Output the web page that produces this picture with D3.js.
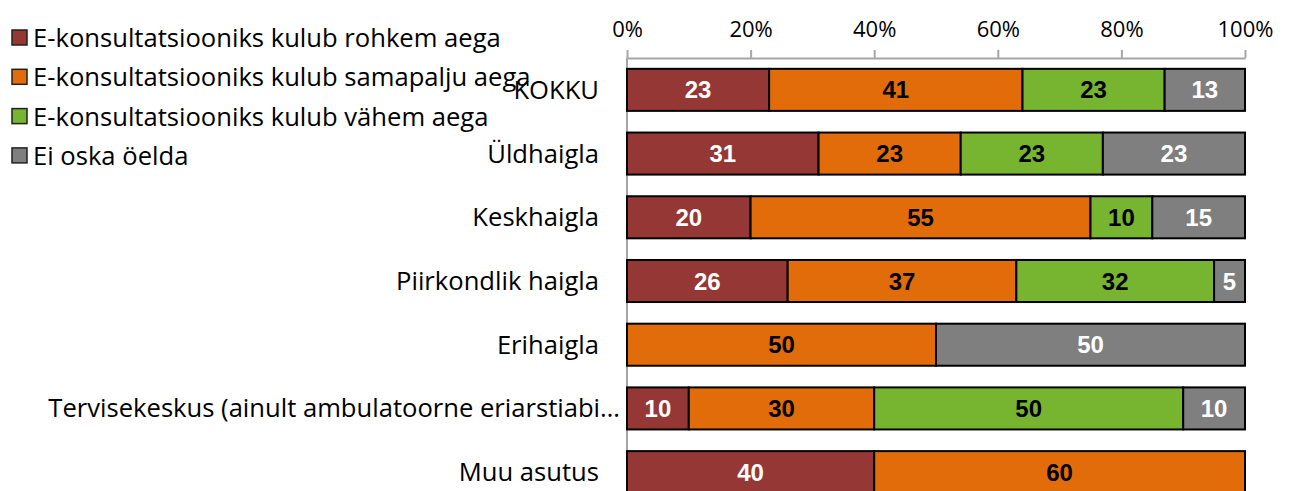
<!DOCTYPE html>
<html>
<head>
  <meta charset="utf-8">
  <script src="https://d3js.org/d3.v7.min.js"></script>
  <style>
    body { margin: 0; background: #fff; }
    svg { display: block; }
  </style>
</head>
<body>
  <svg id="chart" width="1290" height="491"></svg>
  <script>
    // data (percent)
    const categories = ["KOKKU", "Üldhaigla", "Keskhaigla", "Piirkondlik haigla", "Erihaigla",
      "Tervisekeskus (ainult ambulatoorne eriarstiabi…", "Muu asutus"];
    const seriesNames = ["E-konsultatsiooniks kulub rohkem aega", "E-konsultatsiooniks kulub samapalju aega",
      "E-konsultatsiooniks kulub vähem aega", "Ei oska öelda"];
    const rohkem = [23, 31, 20, 26, 0, 10, 40];
    const samapalju = [41, 23, 55, 37, 50, 30, 60];
    const vahem = [23, 23, 10, 32, 0, 50, 0];
    const eiOska = [13, 23, 15, 5, 50, 10, 0];
    const tickValues = [0, 20, 40, 60, 80, 100];

    const colors = ["#953735", "#e36c0a", "#77b531", "#7f7f7f"];
    const labelColors = ["#fff", "#000", "#000", "#fff"];
    const textFont = "'Open Sans', 'Noto Sans', sans-serif";
    const numFont = "'Liberation Sans', Arial, sans-serif";

    const rows = categories.map((c, i) => ({
      cat: c, s0: rohkem[i], s1: samapalju[i], s2: vahem[i], s3: eiOska[i]
    }));
    const stack = d3.stack().keys(["s0", "s1", "s2", "s3"])(rows);

    const svg = d3.select("#chart");
    const x = d3.scaleLinear().domain([0, 100]).range([627, 1245]);
    const y = d3.scaleBand().domain(categories).range([58, 504]).paddingInner(0.34).paddingOuter(0.17);

    // top axis
    const axis = svg.append("g")
      .attr("transform", "translate(0,58)")
      .call(d3.axisTop(x).tickValues(tickValues).tickSize(8).tickSizeOuter(0).tickPadding(13).tickFormat(d => d + "%"));
    axis.select(".domain").attr("stroke", "#a6a6a6").attr("stroke-width", 2);
    axis.selectAll(".tick line").attr("stroke", "#a6a6a6").attr("stroke-width", 2);
    axis.selectAll(".tick text")
      .attr("fill", "#000")
      .style("font-family", textFont)
      .style("font-size", "22px");

    // vertical category axis line
    svg.append("line")
      .attr("x1", x(0)).attr("x2", x(0))
      .attr("y1", 58).attr("y2", 491)
      .attr("stroke", "#a6a6a6").attr("stroke-width", 2);

    // bars
    const layers = svg.append("g").selectAll("g").data(stack).join("g")
      .attr("fill", (d, i) => colors[i]);
    layers.selectAll("rect").data(d => d.map(v => ({ v, cat: v.data.cat })))
      .join("rect")
      .attr("x", d => x(d.v[0]))
      .attr("y", d => y(d.cat))
      .attr("width", d => x(d.v[1]) - x(d.v[0]))
      .attr("height", y.bandwidth())
      .attr("stroke", "#000")
      .attr("stroke-width", d => d.v[1] > d.v[0] ? 2 : 0);

    // value labels
    stack.forEach((layer, i) => {
      svg.append("g").selectAll("text").data(layer.filter(v => v[1] > v[0]))
        .join("text")
        .attr("x", v => (x(v[0]) + x(v[1])) / 2)
        .attr("y", v => y(v.data.cat) + y.bandwidth() / 2)
        .attr("dy", "0.36em")
        .attr("text-anchor", "middle")
        .attr("fill", labelColors[i])
        .style("font-family", numFont)
        .style("font-weight", "bold")
        .style("font-size", "24px")
        .text(v => v[1] - v[0]);
    });

    // category labels
    svg.append("g").selectAll("text").data(categories)
      .join("text")
      .attr("x", d => d.endsWith("…") ? 620 : 599)
      .attr("y", d => y(d) + y.bandwidth() / 2)
      .attr("dy", "0.35em")
      .attr("text-anchor", "end")
      .attr("fill", "#000")
      .style("font-family", textFont)
      .style("font-size", "25.6px")
      .text(d => d);

    // legend
    const legend = svg.append("g").selectAll("g").data(seriesNames)
      .join("g")
      .attr("transform", (d, i) => `translate(12,${38 + i * 39.3})`);
    legend.append("rect")
      .attr("x", 0).attr("y", -8)
      .attr("width", 15).attr("height", 15)
      .attr("fill", (d, i) => colors[i])
      .attr("stroke", "#222").attr("stroke-width", 1.5);
    legend.append("text")
      .attr("x", 21)
      .attr("dy", "0.35em")
      .attr("fill", "#000")
      .style("font-family", textFont)
      .style("font-size", "25.6px")
      .text(d => d);
  </script>
</body>
</html>
